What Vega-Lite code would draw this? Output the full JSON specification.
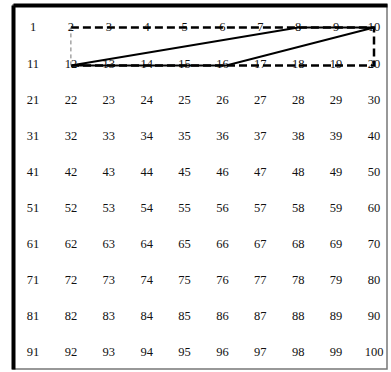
{
  "$schema": "https://vega.github.io/schema/vega-lite/v6.json",
  "width": 374,
  "height": 364,
  "autosize": {"type": "none"},
  "padding": {"left": 13, "top": 5, "right": 4, "bottom": 3},
  "background": "white",
  "config": {
    "view": {"stroke": "#777", "strokeWidth": 1.5},
    "axis": {"domainColor": "black", "domainWidth": 4, "labels": false, "ticks": false, "title": null, "grid": false, "zindex": 1}
  },
  "datasets": {
    "cells": [
      {"n":1,"c":1,"r":1},{"n":2,"c":2,"r":1},{"n":3,"c":3,"r":1},{"n":4,"c":4,"r":1},{"n":5,"c":5,"r":1},{"n":6,"c":6,"r":1},{"n":7,"c":7,"r":1},{"n":8,"c":8,"r":1},{"n":9,"c":9,"r":1},{"n":10,"c":10,"r":1},
      {"n":11,"c":1,"r":2},{"n":12,"c":2,"r":2},{"n":13,"c":3,"r":2},{"n":14,"c":4,"r":2},{"n":15,"c":5,"r":2},{"n":16,"c":6,"r":2},{"n":17,"c":7,"r":2},{"n":18,"c":8,"r":2},{"n":19,"c":9,"r":2},{"n":20,"c":10,"r":2},
      {"n":21,"c":1,"r":3},{"n":22,"c":2,"r":3},{"n":23,"c":3,"r":3},{"n":24,"c":4,"r":3},{"n":25,"c":5,"r":3},{"n":26,"c":6,"r":3},{"n":27,"c":7,"r":3},{"n":28,"c":8,"r":3},{"n":29,"c":9,"r":3},{"n":30,"c":10,"r":3},
      {"n":31,"c":1,"r":4},{"n":32,"c":2,"r":4},{"n":33,"c":3,"r":4},{"n":34,"c":4,"r":4},{"n":35,"c":5,"r":4},{"n":36,"c":6,"r":4},{"n":37,"c":7,"r":4},{"n":38,"c":8,"r":4},{"n":39,"c":9,"r":4},{"n":40,"c":10,"r":4},
      {"n":41,"c":1,"r":5},{"n":42,"c":2,"r":5},{"n":43,"c":3,"r":5},{"n":44,"c":4,"r":5},{"n":45,"c":5,"r":5},{"n":46,"c":6,"r":5},{"n":47,"c":7,"r":5},{"n":48,"c":8,"r":5},{"n":49,"c":9,"r":5},{"n":50,"c":10,"r":5},
      {"n":51,"c":1,"r":6},{"n":52,"c":2,"r":6},{"n":53,"c":3,"r":6},{"n":54,"c":4,"r":6},{"n":55,"c":5,"r":6},{"n":56,"c":6,"r":6},{"n":57,"c":7,"r":6},{"n":58,"c":8,"r":6},{"n":59,"c":9,"r":6},{"n":60,"c":10,"r":6},
      {"n":61,"c":1,"r":7},{"n":62,"c":2,"r":7},{"n":63,"c":3,"r":7},{"n":64,"c":4,"r":7},{"n":65,"c":5,"r":7},{"n":66,"c":6,"r":7},{"n":67,"c":7,"r":7},{"n":68,"c":8,"r":7},{"n":69,"c":9,"r":7},{"n":70,"c":10,"r":7},
      {"n":71,"c":1,"r":8},{"n":72,"c":2,"r":8},{"n":73,"c":3,"r":8},{"n":74,"c":4,"r":8},{"n":75,"c":5,"r":8},{"n":76,"c":6,"r":8},{"n":77,"c":7,"r":8},{"n":78,"c":8,"r":8},{"n":79,"c":9,"r":8},{"n":80,"c":10,"r":8},
      {"n":81,"c":1,"r":9},{"n":82,"c":2,"r":9},{"n":83,"c":3,"r":9},{"n":84,"c":4,"r":9},{"n":85,"c":5,"r":9},{"n":86,"c":6,"r":9},{"n":87,"c":7,"r":9},{"n":88,"c":8,"r":9},{"n":89,"c":9,"r":9},{"n":90,"c":10,"r":9},
      {"n":91,"c":1,"r":10},{"n":92,"c":2,"r":10},{"n":93,"c":3,"r":10},{"n":94,"c":4,"r":10},{"n":95,"c":5,"r":10},{"n":96,"c":6,"r":10},{"n":97,"c":7,"r":10},{"n":98,"c":8,"r":10},{"n":99,"c":9,"r":10},{"n":100,"c":10,"r":10}
    ],
    "paths": [
      {"path":"solid","o":1,"c":2,"r":2.05},{"path":"solid","o":2,"c":8,"r":1},{"path":"solid","o":3,"c":10,"r":1},{"path":"solid","o":4,"c":6.1,"r":2.05},{"path":"solid","o":5,"c":2,"r":2.05},
      {"path":"dashed","o":1,"c":2,"r":1},{"path":"dashed","o":2,"c":10,"r":1},{"path":"dashed","o":3,"c":10,"r":2.05},{"path":"dashed","o":4,"c":2,"r":2.05},
      {"path":"thin","o":1,"c":2,"r":2.05},{"path":"thin","o":2,"c":2,"r":1}
    ]
  },
  "layer": [
    {
      "data": {"name": "cells"},
      "mark": {"type": "text", "font": "Liberation Serif", "fontSize": 12.5, "fill": "#111", "baseline": "middle", "align": "center"},
      "encoding": {
        "x": {"field": "c", "type": "quantitative", "scale": {"domain": [0.472, 10.343], "nice": false, "zero": false}, "axis": {"orient": "top"}},
        "y": {"field": "r", "type": "quantitative", "scale": {"domain": [0.377, 10.457], "nice": false, "zero": false, "reverse": true}, "axis": {"orient": "left"}},
        "text": {"field": "n"}
      }
    },
    {
      "data": {"name": "paths"},
      "transform": [{"filter": "datum.path === 'solid'"}],
      "mark": {"type": "line", "color": "black", "strokeWidth": 2},
      "encoding": {
        "x": {"field": "c", "type": "quantitative"},
        "y": {"field": "r", "type": "quantitative"},
        "order": {"field": "o"}
      }
    },
    {
      "data": {"name": "paths"},
      "transform": [{"filter": "datum.path === 'dashed'"}],
      "mark": {"type": "line", "color": "black", "strokeWidth": 2.5, "strokeDash": [8, 4]},
      "encoding": {
        "x": {"field": "c", "type": "quantitative"},
        "y": {"field": "r", "type": "quantitative"},
        "order": {"field": "o"}
      }
    },
    {
      "data": {"name": "paths"},
      "transform": [{"filter": "datum.path === 'thin'"}],
      "mark": {"type": "line", "color": "#777", "strokeWidth": 1, "strokeDash": [4, 3]},
      "encoding": {
        "x": {"field": "c", "type": "quantitative"},
        "y": {"field": "r", "type": "quantitative"},
        "order": {"field": "o"}
      }
    }
  ]
}
